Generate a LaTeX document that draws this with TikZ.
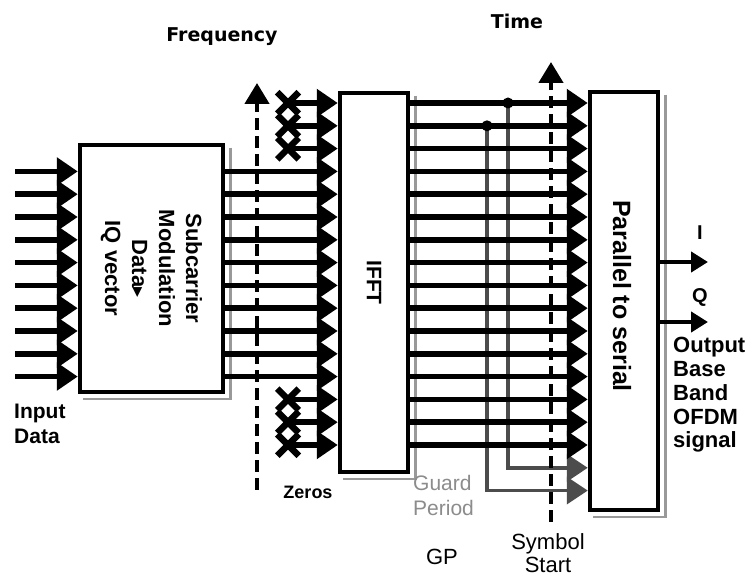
\documentclass[tikz,border=0pt]{standalone}
\usepackage{fontspec}
\setmainfont{Liberation Sans}
\newfontfamily\dv{DejaVu Sans}
\usetikzlibrary{arrows.meta,shapes.misc}
\begin{document}
\begin{tikzpicture}[x=1pt,y=-1pt,
  box/.style={draw, line width=4.5pt, fill=white, inner sep=0pt},
  sig/.style={line width=5.5pt, -{Triangle[length=21pt,width=27pt]}},
  guard/.style={draw=black!70, line width=3.5pt, sharp corners, -{Triangle[length=21pt,width=27pt]}},
  shadowl/.style={draw=black!40, line width=2.5pt},
  xmark/.style={cross out, draw, line width=6.5pt, minimum size=15pt, inner sep=0pt},
  dashv/.style={line width=4.5pt, dash pattern=on 12pt off 6pt, -{Triangle[length=21pt,width=24pt]}},
  outarr/.style={line width=4.5pt, -{Triangle[length=17pt,width=20pt]}},
  dot/.style={circle, fill, inner sep=0pt, minimum size=11pt},
  hd/.style={inner sep=0pt, font=\dv\bfseries\fontsize{19}{22}\selectfont},
  lblb/.style={inner sep=0pt, align=left, font=\bfseries\fontsize{21}{25}\selectfont},
  lblr/.style={inner sep=0pt, align=center, font=\fontsize{22}{23}\selectfont},
  boxtxt/.style={inner sep=0pt, rotate=-90, align=center, font=\bfseries\fontsize{22}{27}\selectfont}
]
\useasboundingbox (0,0) rectangle (756,577);
\fill[white] (0,0) rectangle (756,577);

% row coordinates
\foreach \k in {0,...,17} {
  \pgfmathsetmacro\yy{103+22.8*\k}
  \coordinate (r\k) at (0,\yy);
}

% boxes
\node[box, minimum width=143pt, minimum height=247pt] (sub) at (151.5,268.5) {};
\node[box, minimum width=68pt, minimum height=379pt] (ifft) at (374,282.5) {};
\node[box, minimum width=68pt, minimum height=418pt] (ps) at (624,301) {};

% shadows
\draw[shadowl] ([shift={(5,5)}]sub.north east) -- ([shift={(5,5)}]sub.south east) -- ([shift={(5,5)}]sub.south west);
\draw[shadowl] ([shift={(5,5)}]ifft.north east) -- ([shift={(5,5)}]ifft.south east) -- ([shift={(5,5)}]ifft.south west);
\draw[shadowl] ([shift={(5,5)}]ps.north east) -- ([shift={(5,5)}]ps.south east) -- ([shift={(5,5)}]ps.south west);

% box texts
\node[boxtxt] (subtxt) at (sub.center) {Subcarrier\\Modulation\\Data{\dv\fontsize{20}{20}\selectfont ▸}\\IQ vector};
\node[boxtxt, font=\bfseries\fontsize{21}{25}\selectfont] (iffttxt) at (ifft.center) {IFFT};
\node[boxtxt, font=\bfseries\fontsize{25}{28}\selectfont] (pstxt) at ([shift={(-2,-5)}]ps.center) {Parallel to serial};

% guard period lines (drawn below the horizontal lines)
\path (r0) ++(508,0) coordinate (g1c);
\path (r1) ++(487,0) coordinate (g2c);
\draw[guard] (g1c) -- (g1c |- r16) -- (ps.west |- r16);
\draw[guard] (g2c) -- (g2c |- r17) -- (ps.west |- r17);

% input data lines
\foreach \k in {3,...,12} {
  \path (r\k) ++(15,0) coordinate (in\k);
  \draw[sig] (in\k) -- (sub.west |- r\k);
  \draw[sig] (sub.east |- r\k) -- (ifft.west |- r\k);
}

% zero inputs with crosses
\foreach \k in {0,1,2,13,14,15} {
  \path (r\k) ++(288,0) node[xmark] (x\k) {};
  \draw[sig] (x\k.center) -- (ifft.west |- r\k);
}

% IFFT outputs
\foreach \k in {0,...,15} {
  \draw[sig] (ifft.east |- r\k) -- (ps.west |- r\k);
}

% junction dots
\node[dot] (g1) at (g1c) {};
\node[dot] (g2) at (g2c) {};

% dashed axes
\coordinate (fq0) at (257,490);
\coordinate (fq1) at (257,83);
\draw[dashv] (fq0) -- (fq1);
\coordinate (ss0) at (551,522);
\coordinate (ss1) at (551,62);
\draw[dashv] (ss0) -- (ss1);

% outputs I and Q
\coordinate (iout) at (708,262);
\coordinate (qout) at (708,322);
\draw[outarr] (ps.east |- iout) -- (iout);
\draw[outarr] (ps.east |- qout) -- (qout);

% labels
\node[hd] (freq) at (222,37) {Frequency};
\node[hd] (time) at (517,21) {Time};
\node[lblb, font=\bfseries\fontsize{20}{22}\selectfont] (ilbl) at (700,233) {I};
\node[lblb, font=\bfseries\fontsize{20}{22}\selectfont] (qlbl) at (700,297) {Q};
\node[lblb, anchor=west] (inlbl) at (14,424) {Input\\Data};
\node[lblb, anchor=west, font=\bfseries\fontsize{22}{23.8}\selectfont] (outlbl) at (673,395) {Output\\Base\\Band\\OFDM\\signal};
\node[lblb, font=\bfseries\fontsize{18}{20}\selectfont] (zeros) at (308,492) {Zeros};
\node[lblr, anchor=west, align=left, text=black!45, font=\fontsize{21}{25}\selectfont] (gplbl) at (413,495) {Guard\\Period};
\node[lblr] (gp) at (442,557) {GP};
\node[lblr] (symst) at (548,553) {Symbol\\Start};
\end{tikzpicture}
\end{document}
